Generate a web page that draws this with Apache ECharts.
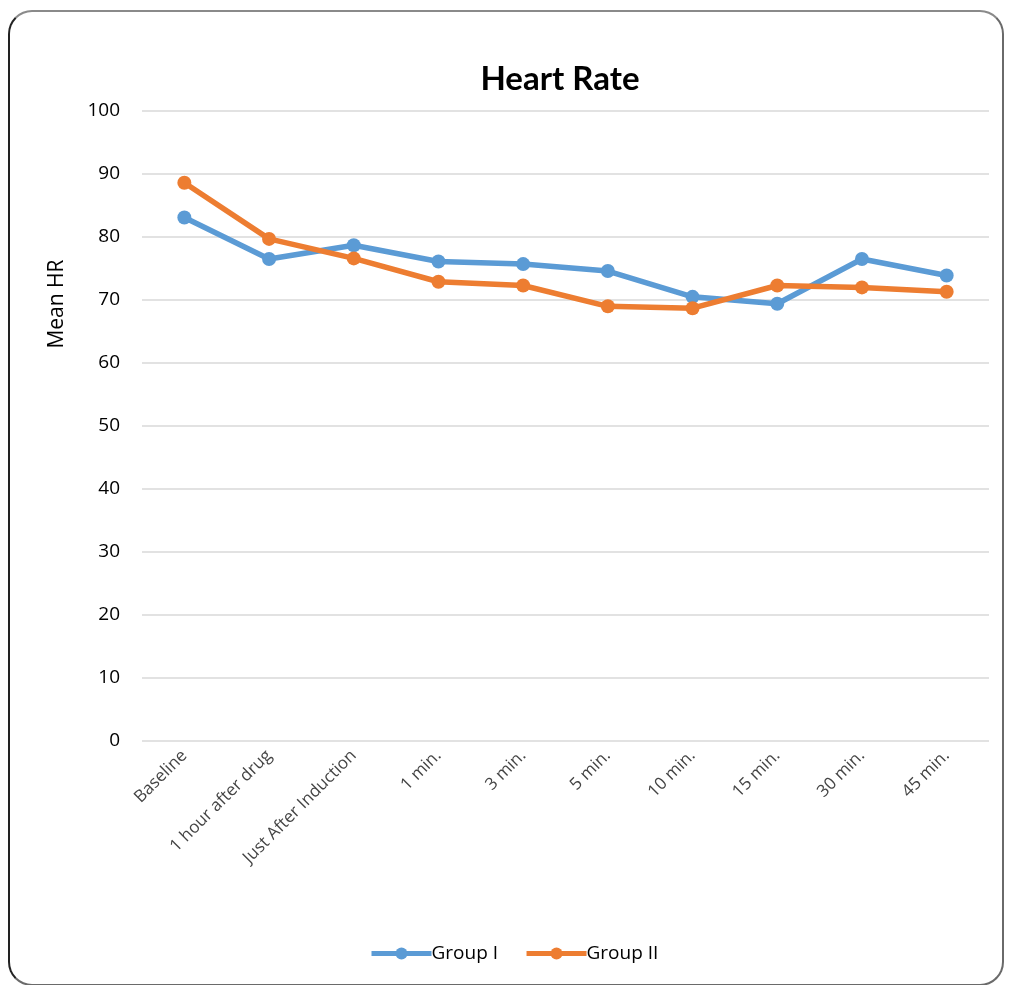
<!DOCTYPE html>
<html>
<head>
<meta charset="utf-8">
<script src="https://cdn.jsdelivr.net/npm/echarts@6/dist/echarts.min.js"></script>
<style>
  html, body { margin: 0; padding: 0; background: #fff; }
  #frame {
    position: absolute; left: 8px; top: 10px; width: 996px; height: 976px;
    border: 2px solid #6a6a6a; border-top-color: #8a8a8a; border-left-color: #222;
    border-radius: 24px; box-sizing: border-box;
  }
  #chart { position: absolute; left: 0; top: 0; width: 1011px; height: 985px; }
</style>
</head>
<body>
<div id="frame"></div>
<div id="chart"></div>
<script>
// Time points of heart-rate measurement
const categories = ['Baseline', '1 hour after drug', 'Just After Induction', '1 min.', '3 min.', '5 min.', '10 min.', '15 min.', '30 min.', '45 min.'];
// Mean heart rate per group
const groupI  = [83.1, 76.5, 78.7, 76.1, 75.7, 74.6, 70.5, 69.4, 76.5, 73.9];
const groupII = [88.6, 79.7, 76.6, 72.9, 72.3, 69.0, 68.7, 72.3, 72.0, 71.3];
const seriesNames = ['Group I', 'Group II'];
const yTicks = [0, 10, 20, 30, 40, 50, 60, 70, 80, 90, 100];

const FONT = '"Open Sans", Lato, sans-serif';
const chart = echarts.init(document.getElementById('chart'), null, { renderer: 'canvas' });

const lineSeries = (name, data, color) => ({
  name, type: 'line', data,
  symbol: 'circle', symbolSize: 14,
  lineStyle: { color, width: 5.5 },
  itemStyle: { color },
  emphasis: { disabled: true },
  z: 3
});

chart.setOption({
  animation: false,
  textStyle: { fontFamily: FONT },
  title: {
    text: 'Heart Rate', left: 555, top: 58, textAlign: 'center',
    textStyle: { fontFamily: 'Lato, sans-serif', fontSize: 33, fontWeight: 'bold', color: '#000' }
  },
  grid: { left: 142, right: 22, top: 111, bottom: 244, containLabel: false },
  xAxis: {
    type: 'category', data: categories, boundaryGap: true,
    axisLine: { show: false }, axisTick: { show: false },
    axisLabel: { rotate: 45, margin: 12, fontSize: 17, color: '#444', fontFamily: FONT, interval: 0 }
  },
  yAxis: {
    type: 'value', min: yTicks[0], max: yTicks[yTicks.length - 1], interval: 10,
    axisLine: { show: false }, axisTick: { show: false },
    axisLabel: { fontSize: 19, color: '#000', margin: 22, fontFamily: FONT },
    splitLine: { lineStyle: { color: '#d9d9d9', width: 1.5 } }
  },
  legend: {
    bottom: 17, left: 364,
    itemWidth: 60, itemHeight: 15, itemGap: 26,
    lineStyle: { width: 5 },
    textStyle: { fontSize: 19, color: '#000', fontFamily: FONT, padding: [0, 0, 0, -5] },
    data: seriesNames
  },
  graphic: [{
    type: 'text', x: 57, y: 304, rotation: Math.PI / 2,
    style: { text: 'Mean HR', font: '21px "Open Sans", sans-serif', fill: '#000', align: 'center', verticalAlign: 'middle' }
  }],
  series: [
    lineSeries(seriesNames[0], groupI, '#5B9BD5'),
    lineSeries(seriesNames[1], groupII, '#ED7D31')
  ]
});
</script>
</body>
</html>
